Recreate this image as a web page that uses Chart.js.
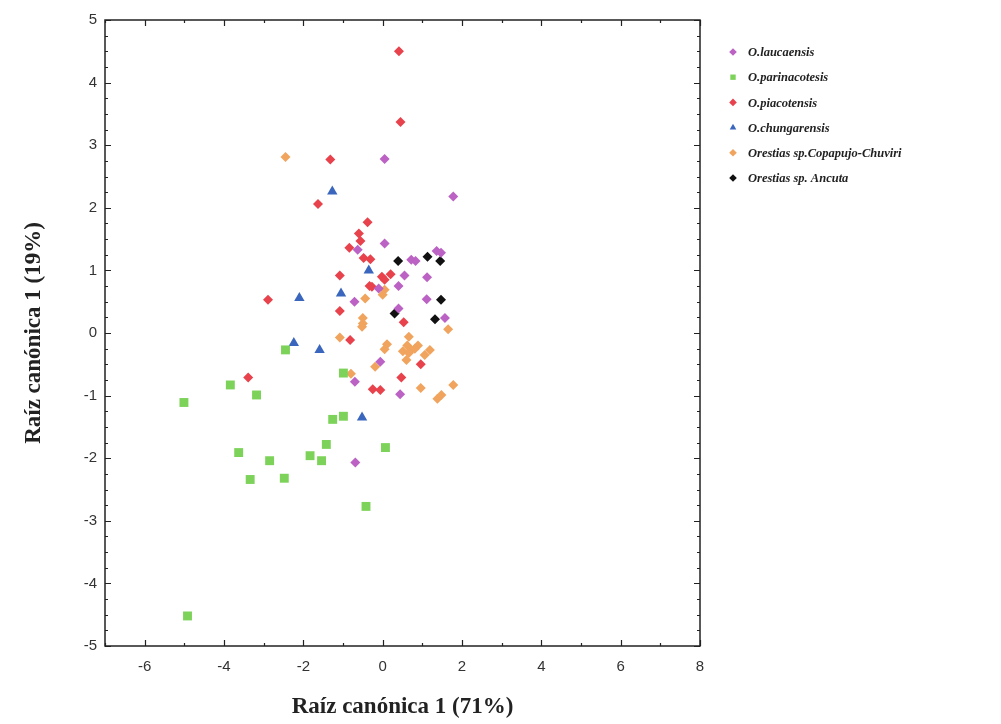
<!DOCTYPE html>
<html>
<head>
<meta charset="utf-8">
<script src="https://cdn.jsdelivr.net/npm/chart.js@4"></script>
<style>
  html, body { margin: 0; padding: 0; background: #fff; }
  #wrap { position: relative; width: 1001px; height: 724px; }
</style>
</head>
<body>
<div id="wrap"><canvas id="rootsChart"></canvas></div>
<script>
// canonical root scores per species: [root 1, root 2]
const laucaensis = [
  [0.05, 2.78], [1.78, 2.18], [0.05, 1.43], [-0.63, 1.33], [0.72, 1.17], [0.83, 1.15],
  [1.36, 1.31], [1.47, 1.28], [0.55, 0.92], [1.12, 0.89], [-0.1, 0.71], [0.4, 0.75],
  [-0.71, 0.5], [1.11, 0.54], [0.4, 0.39], [1.57, 0.24], [-0.06, -0.46], [-0.7, -0.78],
  [0.44, -0.98], [-0.69, -2.07]
];
const parinacotesis = [
  [-5.01, -1.11], [-3.84, -0.83], [-3.18, -0.99], [-3.63, -1.91], [-3.34, -2.34],
  [-2.85, -2.04], [-2.48, -2.32], [-2.45, -0.27], [-1.83, -1.96], [-1.54, -2.04],
  [-1.42, -1.78], [-1.26, -1.38], [-0.99, -1.33], [-0.99, -0.64], [0.07, -1.83],
  [-0.42, -2.77], [-4.92, -4.52]
];
const piacotensis = [
  [0.41, 4.5], [0.45, 3.37], [-1.32, 2.77], [-1.63, 2.06], [-0.38, 1.77], [-0.6, 1.59],
  [-0.56, 1.47], [-0.84, 1.36], [-0.48, 1.2], [-0.31, 1.18], [-1.08, 0.92], [-0.02, 0.9],
  [0.2, 0.94], [0.05, 0.85], [-0.33, 0.75], [-0.27, 0.74], [-2.89, 0.53], [-1.08, 0.35],
  [0.53, 0.17], [-0.82, -0.11], [0.96, -0.5], [0.47, -0.71], [-0.25, -0.9], [-0.06, -0.91],
  [-3.39, -0.71]
];
const chungarensis = [
  [-1.27, 2.26], [-0.35, 1.0], [-1.05, 0.63], [-2.1, 0.56], [-2.24, -0.16], [-1.59, -0.27],
  [-0.52, -1.35]
];
const copapujo = [
  [-2.45, 2.81], [0.05, 0.69], [0.0, 0.61], [-0.44, 0.55], [-0.5, 0.24], [-0.5, 0.15],
  [-0.52, 0.1], [1.65, 0.06], [-1.08, -0.07], [0.66, -0.06], [0.11, -0.18], [0.05, -0.26],
  [0.51, -0.29], [0.62, -0.2], [0.72, -0.27], [0.89, -0.2], [0.81, -0.25], [0.66, -0.32],
  [1.19, -0.27], [1.06, -0.35], [0.6, -0.43], [-0.19, -0.54], [-0.8, -0.65], [1.78, -0.83],
  [0.96, -0.88], [1.48, -0.99], [1.38, -1.05]
];
const ancuta = [
  [0.39, 1.15], [1.13, 1.22], [1.45, 1.15], [1.47, 0.53], [0.3, 0.31], [1.32, 0.22]
];

const xTicks = [-6, -4, -2, 0, 2, 4, 6, 8];
const yTicks = [-5, -4, -3, -2, -1, 0, 1, 2, 3, 4, 5];

const toPoints = arr => arr.map(p => ({ x: p[0], y: p[1] }));

function series(label, pts, color, style, radius) {
  return {
    label: label,
    data: toPoints(pts),
    backgroundColor: color,
    borderColor: color,
    borderWidth: 0,
    pointStyle: style,
    pointRadius: radius,
    pointHoverRadius: radius
  };
}

// box round the plot with inward ticks on all four sides
const framePlugin = {
  id: "frame",
  afterDatasetsDraw(chart) {
    const { ctx, chartArea: a, scales: { x, y } } = chart;
    ctx.save();
    ctx.strokeStyle = "#222";
    ctx.lineWidth = 1.5;
    ctx.strokeRect(a.left, a.top, a.right - a.left, a.bottom - a.top);
    ctx.lineWidth = 1.2;
    ctx.beginPath();
    for (let v = -7; v <= 8; v++) {
      const px = Math.round(x.getPixelForValue(v)) + 0.5;
      const len = v % 2 === 0 ? 6 : 3;
      ctx.moveTo(px, a.bottom); ctx.lineTo(px, a.bottom - len);
      ctx.moveTo(px, a.top); ctx.lineTo(px, a.top + len);
    }
    for (let i = -20; i <= 20; i++) {
      const py = Math.round(y.getPixelForValue(i / 4)) + 0.5;
      const len = i % 4 === 0 ? 6 : 3;
      ctx.moveTo(a.left, py); ctx.lineTo(a.left + len, py);
      ctx.moveTo(a.right, py); ctx.lineTo(a.right - len, py);
    }
    ctx.stroke();
    ctx.restore();
  }
};

// species key to the right of the plot, no box
const sideLegend = {
  id: "sideLegend",
  afterDraw(chart) {
    const { ctx, chartArea: a } = chart;
    const x0 = a.right + 33;
    const y0 = a.top + 32;
    ctx.save();
    ctx.font = "italic bold 12.5px 'Liberation Serif', 'Times New Roman', serif";
    ctx.textBaseline = "middle";
    chart.data.datasets.forEach((ds, i) => {
      const y = y0 + i * 25.2;
      ctx.fillStyle = ds.backgroundColor;
      Chart.helpers.drawPoint(ctx, { pointStyle: ds.pointStyle, radius: 3.8, rotation: 0, borderWidth: 0 }, x0, y);
      ctx.fillStyle = "#222";
      ctx.fillText(ds.label, x0 + 15, y + 1);
    });
    ctx.restore();
  }
};

const tickFont = { family: "'Liberation Sans', Arial, sans-serif", size: 15 };
const titleFont = { family: "'Liberation Serif', 'Times New Roman', serif", size: 23, weight: "bold" };

const ctx = document.getElementById("rootsChart").getContext("2d");
new Chart(ctx, {
  type: "scatter",
  data: {
    datasets: [
      series("O.laucaensis", laucaensis, "#bb62c4", "rectRot", 5),
      series("O.parinacotesis", parinacotesis, "#7dd35a", "rect", 6.3),
      series("O.piacotensis", piacotensis, "#e8424c", "rectRot", 5),
      series("O.chungarensis", chungarensis, "#3a67bd", "triangle", 6),
      series("Orestias sp.Copapujo-Chuviri", copapujo, "#f0a45e", "rectRot", 5),
      series("Orestias sp. Ancuta", ancuta, "#111111", "rectRot", 5)
    ]
  },
  options: {
    responsive: true,
    maintainAspectRatio: false,
    animation: false,
    layout: { padding: { top: 20, right: 301, bottom: 0, left: 0 } },
    plugins: {
      legend: { display: false },
      tooltip: { enabled: false }
    },
    scales: {
      x: {
        type: "linear",
        min: -7,
        max: 8,
        afterBuildTicks: scale => { scale.ticks = xTicks.map(v => ({ value: v })); },
        afterFit: scale => { scale.height = 78; },
        grid: { display: false, drawTicks: false },
        border: { display: false },
        ticks: { font: tickFont, color: "#333", padding: 12 },
        title: {
          display: true,
          text: "Raíz canónica 1 (71%)",
          font: titleFont,
          color: "#222",
          padding: { top: 0, bottom: 3 }
        }
      },
      y: {
        type: "linear",
        min: -5,
        max: 5,
        afterBuildTicks: scale => { scale.ticks = yTicks.map(v => ({ value: v })); },
        afterFit: scale => { scale.width = 105; },
        grid: { display: false, drawTicks: false },
        border: { display: false },
        ticks: { font: tickFont, color: "#333", padding: 8 },
        title: {
          display: true,
          text: "Raíz canónica 1 (19%)",
          font: titleFont,
          color: "#222",
          padding: { top: 20, bottom: 0 }
        }
      }
    }
  },
  plugins: [framePlugin, sideLegend]
});
</script>
</body>
</html>
